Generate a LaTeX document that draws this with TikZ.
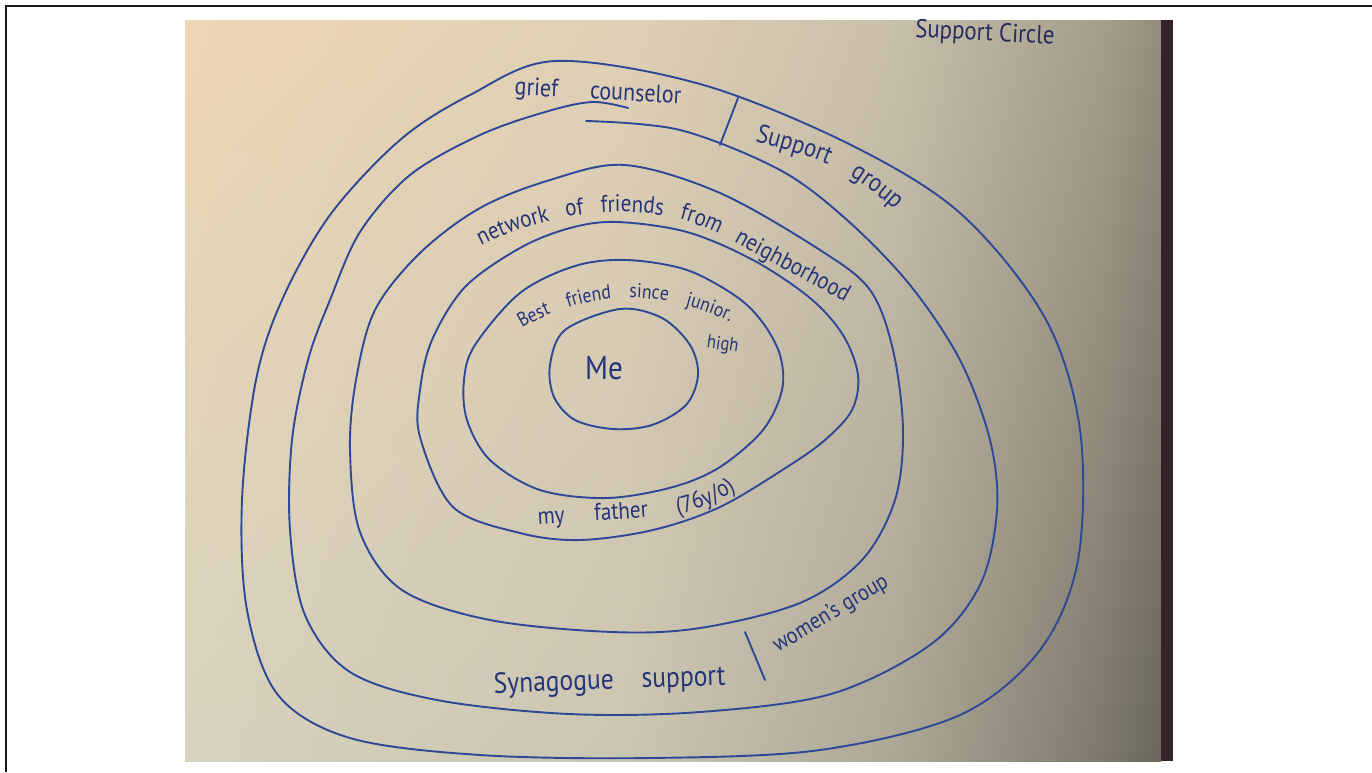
\documentclass[tikz,border=0pt]{standalone}
\usepackage{fontspec}
\setmainfont[FakeStretch=0.88]{PT Sans}
\usetikzlibrary{decorations.text,shadings}

% ink
\definecolor{ink}{RGB}{45,72,150}
\definecolor{inktext}{RGB}{36,52,120}
\definecolor{titleink}{RGB}{36,44,96}
\definecolor{sheetedge}{RGB}{52,36,42}
% paper tones: top row (t) and bottom row (b), left to right
\definecolor{tA}{RGB}{238,214,180}
\definecolor{tB}{RGB}{224,207,180}
\definecolor{tC}{RGB}{200,191,170}
\definecolor{tD}{RGB}{165,157,140}
\definecolor{tE}{RGB}{148,141,126}
\definecolor{bA}{RGB}{214,210,190}
\definecolor{bB}{RGB}{202,197,178}
\definecolor{bC}{RGB}{172,166,150}
\definecolor{bD}{RGB}{126,121,108}
\definecolor{bE}{RGB}{108,103,92}

\tikzset{
  ring/.style={draw=ink, line width=1.9pt, line cap=round, line join=round},
  sepline/.style={draw=ink, line width=1.9pt, line cap=round},
  note/.style={text=inktext, inner sep=0pt, font=\fontsize{#1}{#1}\selectfont},
  curvednote/.style 2 args={decorate, decoration={text along path,
      text={|\fontsize{#1}{#1}\selectfont|#2}, text color=inktext,
      text align={fit to path stretching spaces}}},
}

\begin{document}
\begin{tikzpicture}[x=1pt,y=-1pt]
\useasboundingbox (0,0) rectangle (1372,772);
\fill[white] (0,0) rectangle (1372,772);

% sheet of paper, lit from the upper left
\shade[upper left=tA, upper right=tB, lower left=bA, lower right=bB] (185,20) rectangle (625,761);
\shade[upper left=tB, upper right=tC, lower left=bB, lower right=bC] (624,20) rectangle (898,761);
\shade[upper left=tC, upper right=tD, lower left=bC, lower right=bD] (897,20) rectangle (1103,761);
\shade[upper left=tD, upper right=tE, lower left=bD, lower right=bE] (1102,20) rectangle (1161,761);
\fill[sheetedge] (1161,20) rectangle (1173,761);

% frame
\draw[line width=2.2pt, black!90] (6,772) -- (6,6) -- (1372,6);

% outermost ring
\draw[ring] plot[smooth cycle, tension=0.55] coordinates {
  (555,61) (700,84) (847,143) (960,213) (1045,318) (1080,430) (1078,560)
  (1040,650) (960,715) (820,750) (650,758) (480,755) (350,738) (278,695)
  (247,610) (242,500) (256,380) (282,300) (330,215) (400,140) (470,95)};

% second ring, drawn in one stroke with overlapping ends
\draw[ring] plot[smooth, tension=0.55] coordinates {
  (586,121) (680,130) (780,170) (847,220) (910,285) (960,360) (990,440)
  (997,510) (980,585) (930,645) (831,694) (700,712) (569,714) (437,700)
  (350,672) (305,615) (290,530) (292,440) (308,360) (330,300) (360,232)
  (410,175) (480,135) (545,112) (592,102) (628,108)};

% third ring
\draw[ring] plot[smooth cycle, tension=0.55] coordinates {
  (625,165) (720,193) (820,250) (870,290) (893,350) (903,430) (895,500)
  (862,560) (800,603) (700,628) (612,632) (490,620) (402,590) (360,532)
  (350,450) (356,380) (375,310) (420,253) (480,208) (550,180)};

% fourth ring
\draw[ring] plot[smooth cycle, tension=0.55] coordinates {
  (617,222) (687,232) (753,260) (810,298) (843,335) (858,375) (852,410)
  (825,440) (787,467) (720,507) (653,530) (580,540) (520,533) (453,507)
  (420,437) (420,390) (432,340) (465,287) (520,248) (570,228)};

% fifth ring
\draw[ring] plot[smooth cycle, tension=0.55] coordinates {
  (627,260) (687,270) (737,297) (763,323) (780,355) (782,390) (763,430)
  (720,467) (673,487) (607,498) (540,490) (490,460) (467,420) (464,380)
  (475,345) (520,293) (575,266)};

% inner ring
\draw[ring] plot[smooth cycle, tension=0.55] coordinates {
  (620,309) (662,318) (690,345) (698,375) (686,405) (652,425) (613,429)
  (575,420) (554,397) (550,365) (565,330)};

% dividers inside the two outer bands
\coordinate (topdivA) at (738,98);
\coordinate (topdivB) at (720,145);
\coordinate (botdivA) at (745,632);
\coordinate (botdivB) at (765,680);
\draw[sepline] (topdivA) -- (topdivB);
\draw[sepline] (botdivA) -- (botdivB);

% labels
\node[note=26, text=titleink, rotate=-3] (title) at (985,34) {Support Circle};
\node[note=25, rotate=-3] (grief) at (598,93) {grief\hspace{32pt}counselor};
\path[curvednote={26}{Support group}]
  (755,141) .. controls (795,152) and (815,158) .. (832,166)
  .. controls (852,176) and (875,192) .. (895,210);
\path[curvednote={24}{network of friends from neighborhood}]
  (481,246) .. controls (528,222) and (580,211) .. (625,212)
  .. controls (680,213) and (710,228) .. (748,250)
  .. controls (790,272) and (820,288) .. (845,302);
\path[curvednote={20}{Best friend since junior.}]
  (522,328) .. controls (560,306) and (600,296) .. (640,298)
  .. controls (675,300) and (705,310) .. (730,322);
\node[note=19, rotate=-8, anchor=base] (high) at (722,350) {high};
\node[note=33] (me) at (604,368) {Me};
\path[curvednote={24}{my father (76y/o)}]
  (538,524) .. controls (590,521) and (640,518) .. (668,516)
  .. controls (695,512) and (718,502) .. (736,490);
\node[note=29, rotate=2, anchor=base] (synagogue) at (610,689) {Synagogue\hspace{28pt}support};
\node[note=23, rotate=31, anchor=base] (women) at (834,619) {women's group};
\end{tikzpicture}
\end{document}
